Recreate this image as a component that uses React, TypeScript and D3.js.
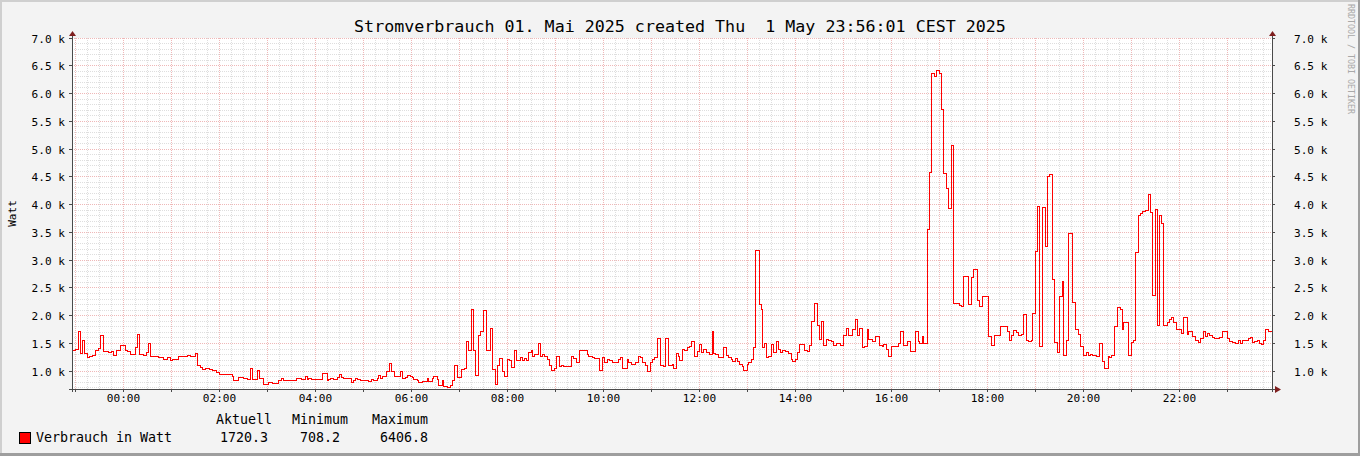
import React, { useEffect } from 'react';
import * as d3 from 'd3';

const TITLE = 'Stromverbrauch 01. Mai 2025 created Thu  1 May 23:56:01 CEST 2025';
const Y_LABEL = 'Watt';
const WATERMARK = 'RRDTOOL / TOBI OETIKER';
const SERIES_NAME = 'Verbrauch in Watt';
const STAT_HEADERS = ['Aktuell', 'Minimum', 'Maximum'];
const STAT_VALUES = ['1720.3', '708.2', '6406.8'];

// time axis in minutes relative to 01 May 2025 00:00
const X_START = -64.4;
const X_END = 1435.6;
const Y_MIN = 680;
const Y_MAX = 7000;
const Y_TICKS = [1000, 1500, 2000, 2500, 3000, 3500, 4000, 4500, 5000, 5500, 6000, 6500, 7000];
const X_LABEL_TICKS = [0, 120, 240, 360, 480, 600, 720, 840, 960, 1080, 1200, 1320];

// step start (minutes) and value (W)
const MINUTES = [
  -64.4, -60.3, -56.9, -54.4, -51, -48.5, -45.6, -42.8, -39.4, -35.3, -31.9, -28.5, -24.8, -18.5, -15.3, -12.3, -9, -4,
  2.3, 4.4, 8.5, 14.8, 17.3, 20.3, 25.3, 28.1, 31.5, 34, 44, 50.3, 54.4, 58.5, 60.6, 68.1, 75.3, 79.4, 83.5, 89.8,
  92.8, 96, 99, 102.3, 107.3, 110.6, 115.6, 119.8, 125.3, 136.5, 137.8, 144, 150.3, 154.4, 158.5, 161.5, 166.9, 170.3, 175.3, 181.5,
  185.6, 194, 197.3, 200.3, 215.6, 222.3, 227.3, 229.4, 231.5, 234.8, 239.8, 243.1, 249, 254.4, 256.5, 258.5, 262.8, 266.9, 269.8, 272.3, 275.3,
  284.8, 287.8, 289.8, 291.9, 296, 300.3, 303.1, 306.5, 309.8, 312.8, 316.9, 319, 321, 323.1, 328.1, 332.3, 334.8, 339, 346, 348.1,
  352.3, 354.4, 358.5, 360.6, 362.8, 366.9, 369, 374, 379.4, 381.5, 385.6, 387.8, 391.9, 394, 398.1, 400.3, 404.4, 408.5, 410.6,
  414, 416.9, 422.3, 425.6, 428.5, 431.5, 434.8,
  437.8, 439.8, 444, 446, 450.3, 453.1, 458.5, 461.5, 464.8, 467.8, 470.3, 474, 476, 480.3, 482.3, 484.8, 488.5, 491, 496, 498.1,
  501, 503.1, 506.5, 509.4, 511.5, 513.5, 519, 521, 524, 526.5, 529.4, 532.3, 534.4, 538.5, 540.6, 544.8, 547.3, 550.3, 559.8, 562.8,
  565.6, 569.8, 579.4, 581.5, 586.5, 589, 594.8, 598.1, 601.5, 604.4, 607.3, 610.6, 614, 619, 621, 624, 629.4, 631.5, 634.4, 639.8,
  644, 646, 649, 652.3, 655.3, 658.5, 660.6, 664, 666.9, 671, 675.3, 677.3, 681.5,
  685.6, 687.8, 690.6, 693.1, 694.8, 698.1, 701.5, 704.4, 707.3, 709.8, 713.5, 716.9, 719.8, 722.3, 725.3, 728.1, 732.3, 735.6, 737.8, 739.8,
  743.1, 750.3, 753.1, 756.5, 759.8, 761.5, 764.8, 766.9, 769.8, 773.1, 775.3, 779.4, 781.5, 784.8, 787.8, 789.8, 794.8, 797.3, 799, 801.5,
  803.5, 806.5, 809.8, 812.8, 815.6, 819, 821, 824, 827.3, 831.5, 834.4, 836.5, 839.8, 841.9, 844.8, 851.5, 854.4, 857.3, 859.8, 864,
  866.9, 869.8, 872.3, 875.3, 878.1, 880.6, 884.8, 887.8, 890.6, 896, 900.3, 903.1, 905.6, 911.5, 914.8, 916.9, 919.8, 923.1, 926.5, 929.4, 931.5,
  935.6, 939.8, 944.8, 948.1, 950.3, 953.1, 955.6, 959.8, 962.8, 964.8, 968.1, 971, 975.3, 979.4, 983.5, 989.8, 993.1, 994.8, 998.1, 1000.3,
  1004.4, 1007.3, 1009.8, 1014, 1016, 1019.8, 1022.3, 1025.3, 1028.1, 1031.5, 1034.8, 1037.8, 1044.8, 1047.3, 1050.3, 1055.6, 1059.8, 1062.8, 1066.9, 1069.8,
  1074, 1081.5, 1084.4, 1089, 1096, 1104.4, 1107.3, 1109.8, 1112.8, 1115.6, 1119, 1122.3, 1125.3, 1128.1, 1131.5, 1134.8, 1136.5, 1139.8, 1142.8, 1144.8,
  1149, 1152.3, 1155.3, 1157.3, 1160.6, 1164, 1166.9, 1169.8, 1173.1, 1175.3, 1178.5, 1181.5,
  1185.6, 1189.8, 1193.1, 1196, 1200.3, 1203.1, 1205.6, 1208.5, 1211.5, 1215.6, 1219.8, 1224, 1226.5, 1230.6, 1232.3, 1234.8, 1239, 1241.9, 1246, 1248.1,
  1250.3, 1256.5, 1259.8, 1262.8, 1264.8, 1268.1, 1271, 1274, 1277.3, 1280.6, 1283.5, 1286.5, 1289.8, 1291.9, 1294.8, 1297.3, 1300.3, 1304.4, 1307.3, 1309.8,
  1312.8, 1315.6, 1319, 1322.3, 1325.3, 1329.4, 1331.5, 1333.5, 1336.5, 1339.8, 1343.1, 1346, 1350.3, 1352.3, 1354.4, 1357.3, 1360.6, 1364, 1369.8, 1374,
  1379.4, 1382.3, 1385.6, 1389.8, 1394, 1396, 1399, 1402.3, 1405.6, 1408.5, 1411.5, 1414, 1416.9, 1419.8, 1422.3, 1425.3, 1427.3, 1430.6,
];
const WATTS = [
  1378, 1390, 1708, 1319, 1546, 1319, 1247, 1270, 1288, 1378, 1409, 1649, 1348, 1337, 1348, 1288, 1378, 1468,
  1378, 1348, 1306, 1427, 1667, 1306, 1288, 1337, 1499, 1270, 1247, 1216, 1247, 1198, 1210, 1270, 1258, 1288, 1270, 1319,
  1108, 1067, 1030, 1048, 1030, 1006, 970, 946, 934, 910, 838, 886, 868, 850, 1048, 850, 1006, 868, 766, 790,
  778, 838, 868, 838, 868, 850, 910, 850, 868, 850, 860, 850, 958, 832, 850, 868, 850, 886, 946, 886, 868,
  790, 832, 868, 850, 838, 826, 838, 820, 850, 838, 868, 928, 868, 898, 988, 1139, 988, 910, 988, 868,
  886, 928, 898, 886, 850, 838, 790, 808, 868, 808, 868, 898, 850, 748, 832, 718, 708.2, 748, 838,
  1108, 886, 1030, 1048, 1528, 1378, 2112,
  1366, 928, 1649, 1708, 2087, 1378, 1769, 1030, 766, 1108, 1229, 988, 910, 1210, 1186, 1067, 1378, 1186, 1247, 1186,
  1229, 1198, 1330, 1366, 1270, 1306, 1499, 1270, 1306, 1270, 1210, 1108, 1018, 1048, 1270, 1078, 1108, 1090, 1258, 1229,
  1150, 1366, 1300, 1270, 1240, 1229, 1018, 1247, 1162, 1210, 1186, 1150, 1162, 1210, 1247, 1048, 1210, 1162, 1126, 1150,
  1258, 1247, 1162, 1108, 988, 1162, 1210, 1247, 1589, 1108, 1090, 1589, 1108,
  1126, 1048, 1319, 1270, 1186, 1390, 1370, 1427, 1450, 1528, 1270, 1347, 1487, 1330, 1390, 1330, 1306, 1708, 1319, 1306,
  1247, 1427, 1290, 1247, 1210, 1168, 1229, 1168, 1126, 1090, 1006, 1126, 1150, 1210, 1427, 3168, 2207, 2112, 1427, 1499,
  1247, 1258, 1487, 1330, 1528, 1390, 1330, 1366, 1348, 1319, 1210, 1168, 1210, 1330, 1487, 1378, 1348, 1468, 1888, 2220,
  1829, 1571, 1900, 1468, 1571, 1550, 1530, 1468, 1499, 1468, 1649, 1769, 1649, 1750, 1931, 1649, 1770, 1427, 1440, 1750, 1571,
  1528, 1631, 1468, 1450, 1480, 1390, 1258, 1450, 1440, 1450, 1499, 1708, 1470, 1540, 1348, 1708, 1528, 1499, 1631, 1499,
  3553, 4573, 6352, 6304, 6406.8, 6352, 5716, 4562, 4292, 3932, 5073, 2220, 2176, 2170, 2699, 2200, 2690, 2833, 2279, 2170,
  2351, 1618, 1468, 1649, 1798, 1708, 1550, 1649, 1726, 1690, 1649, 1670, 2027, 1550, 1530, 1550, 2040, 3150, 3973, 1450,
  3950, 3253, 4501, 4540, 2652, 1520, 1330, 2351, 2610, 1288, 1550, 3481,
  2231, 1751, 1668, 1450, 1288, 1330, 1288, 1300, 1288, 1270, 1499, 1168, 1048, 1270, 1247, 1288, 1811, 2148, 2110, 1751,
  1870, 1288, 1510, 1550, 3132, 3811, 3841, 3871, 3890, 4190, 3860, 2370, 3915, 1829, 3811, 3661, 1829, 1870, 1931, 1960,
  1870, 1751, 1760, 1672, 1960, 1660, 1710, 1720, 1630, 1560, 1510, 1590, 1720, 1630, 1680, 1650, 1610, 1590, 1610, 1720,
  1590, 1530, 1510, 1499, 1550, 1499, 1550, 1560, 1590, 1610, 1510, 1530, 1550, 1499, 1490, 1560, 1750, 1720.3,
];

const W = 1360;
const H = 456;
const PLOT = { left: 72, right: 1272, top: 38, bottom: 389 };
const MONO = "'DejaVu Sans Mono', monospace";

const snap = (v: number) => Math.floor(v) + 0.5;

export default function App() {
  useEffect(() => {
    document.body.style.margin = '0';
  }, []);

  const x = d3.scaleLinear().domain([X_START, X_END]).range([PLOT.left, PLOT.right]);
  const y = d3.scaleLinear().domain([Y_MIN, Y_MAX]).range([PLOT.bottom, PLOT.top]);

  const pts: [number, number][] = MINUTES.map((m, i) => [m, WATTS[i]]);
  pts.push([X_END, WATTS[WATTS.length - 1]]);
  const line = d3
    .line<[number, number]>()
    .x((d) => x(d[0]))
    .y((d) => y(d[1]))
    .curve(d3.curveStepAfter);

  const minorV = d3.range(-60, X_END, 15).filter((m) => m % 60 !== 0);
  const majorV = d3.range(-60, X_END, 60);
  const minorH = d3.range(700, Y_MAX + 1, 100).filter((v) => v % 500 !== 0);
  const majorH = Y_TICKS;

  const fmtY = (v: number) => (v / 1000).toFixed(1) + ' k';
  const fmtX = (m: number) => d3.format('02d')(Math.floor(m / 60)) + ':' + d3.format('02d')(m % 60);

  const gridMinor = '#dedede';
  const gridMajor = '#efb8b8';
  const axisCol = '#4a4a4a';
  const arrowCol = '#7f1f1f';

  const statX = [216, 292, 372];
  const valX = [220, 300, 380];

  return (
    <svg width={W} height={H} style={{ display: 'block' }} xmlns="http://www.w3.org/2000/svg">
      <rect x={0} y={0} width={W} height={H} fill="#f3f3f3" />
      {/* frame shading */}
      <rect x={0} y={0} width={W} height={2} fill="#cfcfcf" />
      <rect x={0} y={0} width={2} height={H} fill="#cfcfcf" />
      <rect x={0} y={H - 3} width={W} height={3} fill="#9e9e9e" />
      <rect x={W - 2} y={0} width={2} height={H} fill="#9e9e9e" />

      <rect x={PLOT.left} y={PLOT.top} width={PLOT.right - PLOT.left} height={PLOT.bottom - PLOT.top} fill="#ffffff" />

      <g shapeRendering="crispEdges" strokeDasharray="1,1" strokeWidth={1}>
        {minorH.map((v) => (
          <line key={'mh' + v} x1={PLOT.left} x2={PLOT.right} y1={snap(y(v))} y2={snap(y(v))} stroke={gridMinor} />
        ))}
        {minorV.map((m) => (
          <line key={'mv' + m} y1={PLOT.top} y2={PLOT.bottom} x1={snap(x(m))} x2={snap(x(m))} stroke={gridMinor} />
        ))}
        {majorH.map((v) => (
          <line key={'Mh' + v} x1={PLOT.left} x2={PLOT.right} y1={snap(y(v))} y2={snap(y(v))} stroke={gridMajor} />
        ))}
        {majorV.map((m) => (
          <line key={'Mv' + m} y1={PLOT.top} y2={PLOT.bottom} x1={snap(x(m))} x2={snap(x(m))} stroke={gridMajor} />
        ))}
      </g>

      <path d={line(pts) || ''} fill="none" stroke="#ff0000" strokeWidth={1} shapeRendering="crispEdges" />

      {/* axes */}
      <g stroke={axisCol} strokeWidth={1} shapeRendering="crispEdges">
        <line x1={snap(PLOT.left)} x2={snap(PLOT.left)} y1={PLOT.bottom + 3} y2={PLOT.top - 4} />
        <line x1={snap(PLOT.right)} x2={snap(PLOT.right)} y1={PLOT.bottom + 3} y2={PLOT.top - 4} />
        <line x1={PLOT.left - 3} x2={PLOT.right + 4} y1={snap(PLOT.bottom)} y2={snap(PLOT.bottom)} />
        {majorH.map((v) => (
          <g key={'t' + v}>
            <line x1={PLOT.left - 3} x2={PLOT.left} y1={snap(y(v))} y2={snap(y(v))} />
            <line x1={PLOT.right} x2={PLOT.right + 3} y1={snap(y(v))} y2={snap(y(v))} />
          </g>
        ))}
        {majorV.map((m) => (
          <line key={'tv' + m} x1={snap(x(m))} x2={snap(x(m))} y1={PLOT.bottom} y2={PLOT.bottom + 3} />
        ))}
      </g>
      <g fill={arrowCol}>
        <polygon points={`${PLOT.left - 3},${PLOT.top - 2} ${PLOT.left + 4},${PLOT.top - 2} ${PLOT.left + 0.5},${PLOT.top - 7}`} />
        <polygon points={`${PLOT.right - 3},${PLOT.top - 2} ${PLOT.right + 4},${PLOT.top - 2} ${PLOT.right + 0.5},${PLOT.top - 7}`} />
        <polygon points={`${PLOT.right + 3},${PLOT.bottom - 3} ${PLOT.right + 3},${PLOT.bottom + 4} ${PLOT.right + 9},${PLOT.bottom + 0.5}`} />
      </g>

      {/* tick labels */}
      <g fontFamily={MONO} fontSize={11.1} fill="#000">
        {Y_TICKS.map((v) => (
          <text key={'yl' + v} x={65} y={snap(y(v)) + 4} textAnchor="end">
            {fmtY(v)}
          </text>
        ))}
        {Y_TICKS.map((v) => (
          <text key={'yr' + v} x={1294} y={snap(y(v)) + 4} textAnchor="start">
            {fmtY(v)}
          </text>
        ))}
        {X_LABEL_TICKS.map((m) => (
          <text key={'xl' + m} x={x(m)} y={402} textAnchor="middle">
            {fmtX(m)}
          </text>
        ))}
        <text transform={`translate(15.5,${(PLOT.top + PLOT.bottom) / 2}) rotate(-90)`} textAnchor="middle">
          {Y_LABEL}
        </text>
      </g>

      <text x={680} y={32} textAnchor="middle" fontFamily={MONO} fontSize={16.67} fill="#000" style={{ whiteSpace: 'pre' }}>
        {TITLE}
      </text>

      <text transform="translate(1348,4) rotate(90)" fontFamily={MONO} fontSize={8.3} fill="#a8a8a8">
        {WATERMARK}
      </text>

      {/* legend */}
      <rect x={19.5} y={432.5} width={11} height={11} fill="#ff0000" stroke="#000" strokeWidth={1} />
      <g fontFamily={MONO} fontSize={13.3} fill="#000">
        <text x={36} y={441.5}>{SERIES_NAME}</text>
        {STAT_HEADERS.map((h, i) => (
          <text key={h} x={statX[i]} y={424}>{h}</text>
        ))}
        {STAT_VALUES.map((v, i) => (
          <text key={v} x={valX[i]} y={441.5}>{v}</text>
        ))}
      </g>
    </svg>
  );
}
